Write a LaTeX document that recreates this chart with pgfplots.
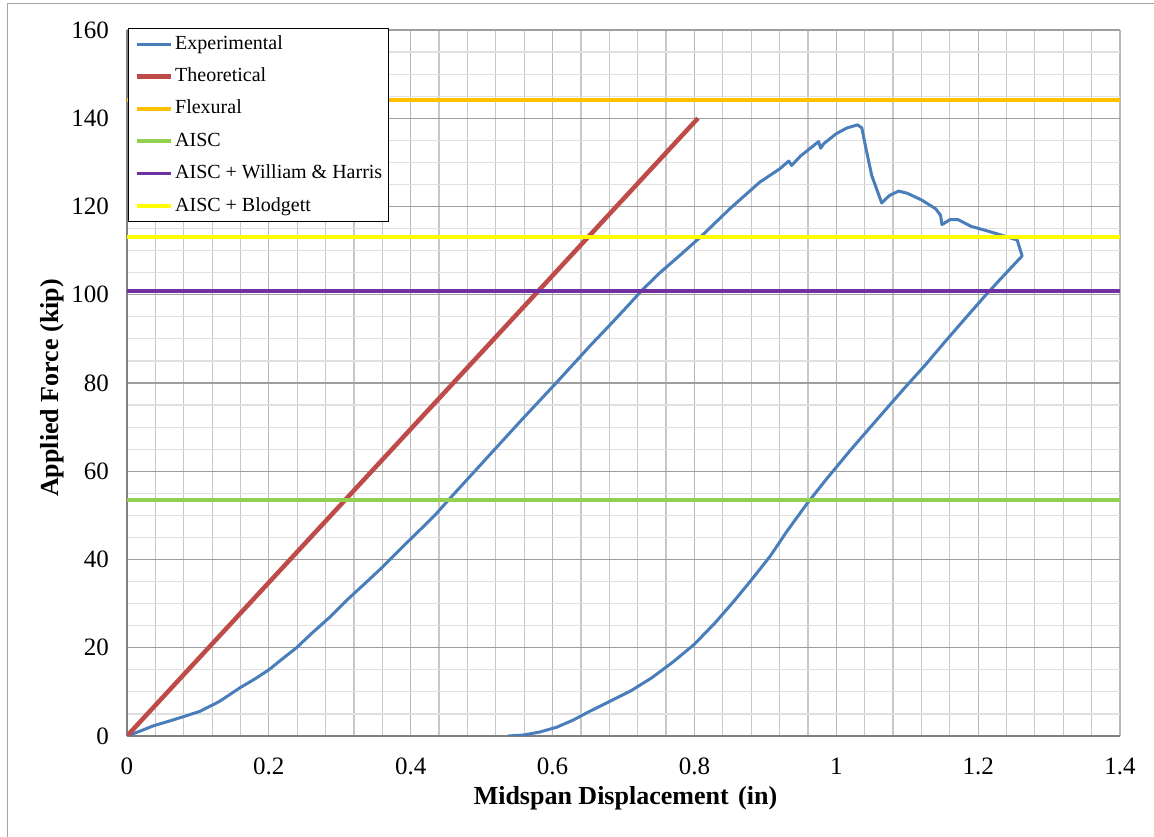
\documentclass[border=0pt]{standalone}
\usepackage{fontspec}
\setmainfont{Liberation Serif}
\usepackage{pgfplots}
\pgfplotsset{compat=1.18}

\definecolor{expblue}{HTML}{4A7EBB}
\definecolor{theored}{HTML}{BE4B48}
\definecolor{flexorange}{HTML}{FFC000}
\definecolor{aiscgreen}{HTML}{92D050}
\definecolor{whpurple}{HTML}{7030A0}
\definecolor{blyellow}{HTML}{FFFF00}

\begin{document}
\begin{tikzpicture}
\begin{axis}[
  at={(127pt,101pt)}, anchor=south west,
  scale only axis, width=993pt, height=706pt,
  xmin=0, xmax=1.4, ymin=0, ymax=160,
  xtick={0,0.2,0.4,0.6,0.8,1,1.2,1.4},
  ytick={0,20,40,60,80,100,120,140,160},
  minor x tick num=4, minor y tick num=3,
  grid=both,
  major x grid style={draw=black!28, line width=1.2pt},
  minor x grid style={draw=black!22, line width=1.2pt},
  major y grid style={draw=black!38, line width=1.3pt},
  minor y grid style={draw=black!12, line width=1.2pt},
  axis lines*=left,
  axis line style={draw=black!50, line width=1.4pt},
  major tick length=0pt, minor tick length=0pt,
  /pgf/number format/assume math mode=true,
  tick label style={font=\fontsize{25}{30}\selectfont},
  xticklabel style={yshift=-18pt},
  yticklabel style={xshift=-14.5pt},
  xlabel={Midspan Displacement\hspace{3pt} (in)},
  ylabel={Applied Force (kip)},
  xlabel style={at={(axis description cs:0.502,-0.067)}, anchor=north,
    font=\fontsize{26}{31}\selectfont\bfseries},
  ylabel style={at={(axis description cs:-0.0601,0.4929)}, anchor=south,
    font=\fontsize{26}{31}\selectfont\bfseries},
  legend cell align=left,
  legend style={at={(axis description cs:0.001,1.003)}, anchor=north west,
    draw=black, line width=1.3pt, fill=white,
    inner xsep=6pt, inner ysep=6.5pt, row sep=14.4pt,
    nodes={inner sep=0pt, text height=14pt, text depth=4pt,
      font=\fontsize{20}{24}\selectfont},
    /tikz/every odd column/.append style={column sep=2pt}},
  legend image code/.code={\draw[#1] (0pt,0pt) -- (34pt,0pt);},
]

% load test: loading branch, post-peak softening, then unloading
\addplot[expblue, line width=3pt, line join=round] coordinates {
 (0,0) (0.02,1.2) (0.037,2.3) (0.06,3.4) (0.08,4.4) (0.103,5.6)
 (0.13,7.8) (0.159,10.9) (0.18,12.9) (0.2,15.0) (0.22,17.6) (0.239,20.0)
 (0.26,23.2) (0.285,26.8) (0.31,30.8) (0.335,34.5) (0.357,37.8)
 (0.385,42.3) (0.413,46.7) (0.435,50.2) (0.455,53.8) (0.48,58.2)
 (0.505,62.6) (0.53,67.0) (0.555,71.4) (0.58,75.7) (0.605,80.0)
 (0.63,84.4) (0.655,88.8) (0.68,93.0) (0.705,97.3) (0.726,101.0)
 (0.75,104.8) (0.78,109.0) (0.808,113.0) (0.85,119.5) (0.892,125.5)
 (0.92,128.5) (0.933,130.3) (0.937,129.3) (0.95,131.5) (0.975,134.7)
 (0.978,133.2) (0.982,134.2) (1.0,136.5) (1.015,137.8) (1.03,138.5)
 (1.036,137.8) (1.042,133.0) (1.05,127.0) (1.064,120.8) (1.075,122.5)
 (1.088,123.5) (1.1,123.0) (1.12,121.5) (1.14,119.5) (1.147,118.0)
 (1.149,115.9) (1.16,117.0) (1.172,117.0) (1.19,115.5) (1.21,114.6)
 (1.235,113.4) (1.255,112.4) (1.262,108.8)
 (1.23,103.3) (1.21,99.8) (1.18,94.3) (1.153,89.3) (1.125,84.0)
 (1.097,79.0) (1.06,72.2) (1.02,64.8) (0.985,58.0) (0.958,52.5)
 (0.93,46.3) (0.907,40.8) (0.88,35.3) (0.857,30.8) (0.83,25.8)
 (0.80,20.8) (0.77,16.8) (0.74,13.2) (0.71,10.2) (0.68,7.8)
 (0.65,5.4) (0.629,3.6) (0.606,2.0) (0.582,0.9) (0.558,0.2) (0.537,0)
};
\addlegendentry{Experimental}

\addplot[theored, line width=4.5pt] coordinates {(0,0) (0.805,140)};
\addlegendentry{Theoretical}

\addplot[flexorange, line width=3.5pt] coordinates {(0,144.1) (1.4,144.1)};
\addlegendentry{Flexural}

\addplot[aiscgreen, line width=3.5pt] coordinates {(0,53.5) (1.4,53.5)};
\addlegendentry{AISC}

\addplot[whpurple, line width=3.5pt] coordinates {(0,100.9) (1.4,100.9)};
\addlegendentry{AISC + William \& Harris}

\addplot[blyellow, line width=3.5pt] coordinates {(0,113.1) (1.4,113.1)};
\addlegendentry{AISC + Blodgett}
\end{axis}

% chart area frame
\draw[black!35, line width=1pt] (7pt,-5pt) -- (7pt,833pt) -- (1160pt,833pt);

\pgfresetboundingbox
\useasboundingbox (0pt,0pt) rectangle (1154pt,837pt);
\end{tikzpicture}
\end{document}
